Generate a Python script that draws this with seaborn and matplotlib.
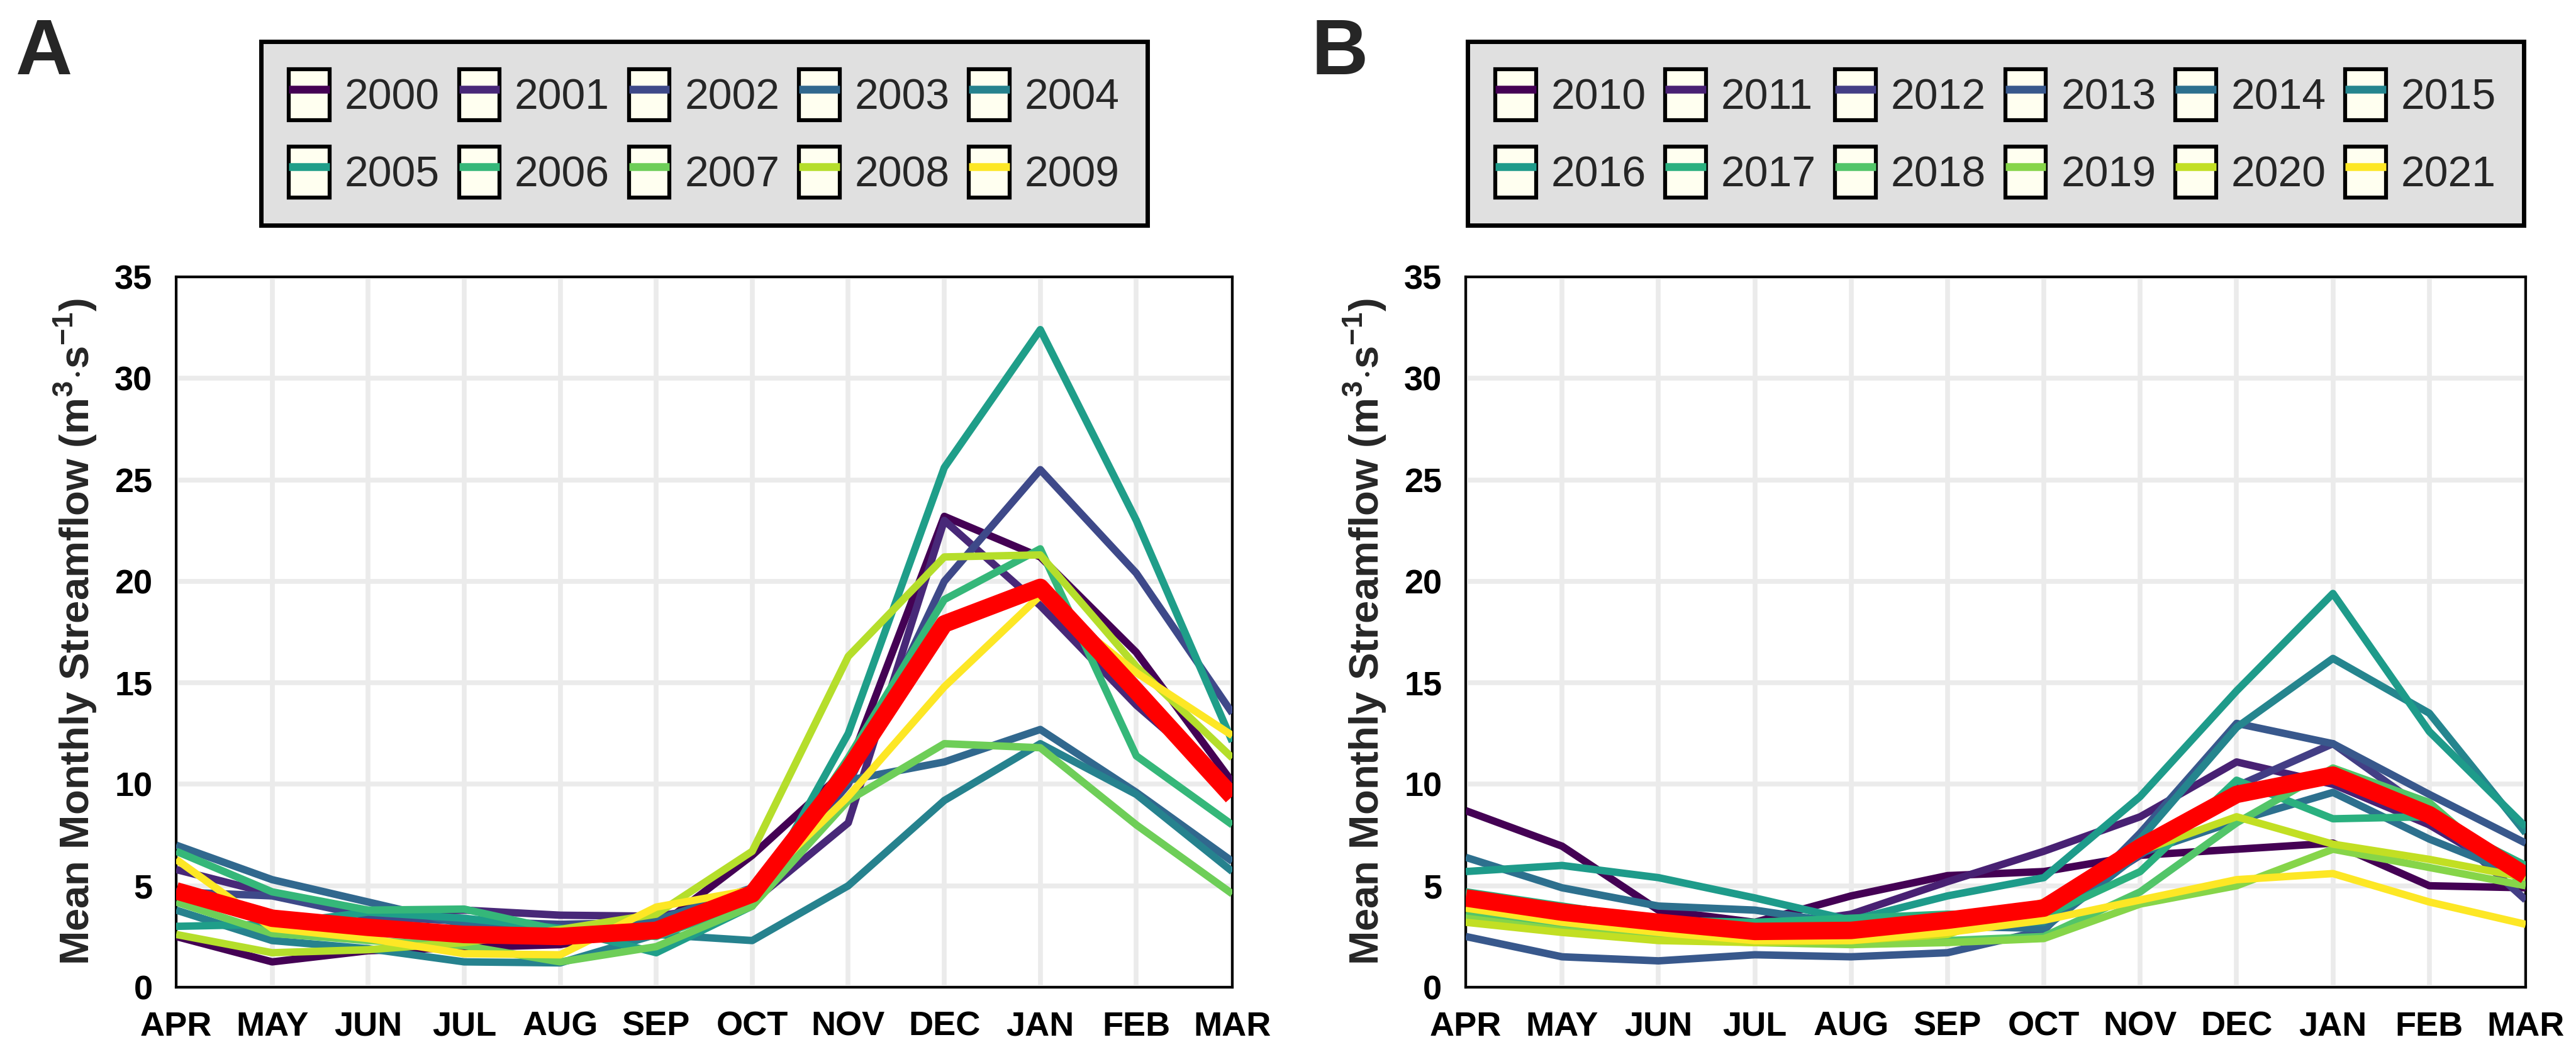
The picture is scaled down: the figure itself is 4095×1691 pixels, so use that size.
import numpy as np
import pandas as pd
import matplotlib
matplotlib.use("Agg")
import matplotlib.pyplot as plt
import matplotlib.font_manager as fm
import seaborn as sns
from matplotlib.patches import Rectangle
from matplotlib.lines import Line2D
from matplotlib.legend_handler import HandlerTuple

# ---------------- data ----------------
months = ["APR", "MAY", "JUN", "JUL", "AUG", "SEP", "OCT", "NOV", "DEC", "JAN", "FEB", "MAR"]

years_A = ["2000", "2001", "2002", "2003", "2004", "2005", "2006", "2007", "2008", "2009"]
A_2000 = [2.5, 1.25, 1.8, 1.95, 2.1, 2.9, 6.5, 10.8, 23.2, 21.2, 16.5, 10.1]
A_2001 = [5.8, 4.6, 3.6, 3.8, 3.55, 3.5, 4.2, 8.1, 23.0, 18.8, 13.9, 9.8]
A_2002 = [4.7, 4.5, 3.5, 3.25, 3.1, 3.2, 4.4, 10.0, 20.0, 25.5, 20.4, 13.5]
A_2003 = [7.0, 5.3, 4.2, 3.1, 2.9, 3.3, 4.9, 10.2, 11.1, 12.7, 9.6, 6.2]
A_2004 = [3.8, 2.3, 1.9, 1.25, 1.2, 2.6, 2.3, 5.0, 9.2, 12.0, 9.5, 5.7]
A_2005 = [3.0, 3.1, 3.7, 3.4, 2.9, 1.7, 4.0, 12.5, 25.6, 32.4, 23.0, 12.1]
A_2006 = [6.7, 4.7, 3.8, 3.85, 2.8, 2.5, 4.2, 11.3, 19.1, 21.6, 11.4, 8.0]
A_2007 = [4.2, 2.65, 2.3, 2.05, 1.25, 2.0, 4.0, 9.2, 12.0, 11.8, 8.0, 4.6]
A_2008 = [2.6, 1.7, 1.85, 2.2, 2.85, 3.6, 6.7, 16.3, 21.2, 21.3, 15.8, 11.3]
A_2009 = [6.3, 2.9, 2.4, 1.65, 1.6, 3.95, 4.8, 9.4, 14.8, 19.3, 15.5, 12.4]
A_mean = [4.75, 3.4, 2.95, 2.6, 2.5, 2.8, 4.6, 10.7, 17.9, 19.7, 14.6, 9.4]

years_B = ["2010", "2011", "2012", "2013", "2014", "2015", "2016", "2017", "2018", "2019", "2020", "2021"]
B_2010 = [8.7, 6.95, 3.8, 3.2, 4.5, 5.5, 5.7, 6.5, 6.8, 7.1, 5.0, 4.9]
B_2011 = [4.5, 3.9, 3.2, 2.9, 3.6, 5.2, 6.7, 8.4, 11.1, 10.0, 8.0, 5.2]
B_2012 = [4.3, 3.7, 3.1, 2.8, 2.8, 3.0, 3.5, 6.5, 9.9, 12.0, 8.6, 4.3]
B_2013 = [2.5, 1.5, 1.3, 1.6, 1.5, 1.7, 2.8, 7.6, 13.0, 12.0, 9.5, 7.1]
B_2014 = [6.4, 4.9, 4.0, 3.8, 3.1, 3.0, 2.9, 6.6, 8.2, 9.6, 7.3, 5.4]
B_2015 = [4.6, 3.8, 3.3, 3.0, 3.0, 3.1, 3.2, 7.3, 12.8, 16.2, 13.5, 7.6]
B_2016 = [5.7, 6.0, 5.4, 4.4, 3.3, 4.5, 5.4, 9.4, 14.6, 19.4, 12.6, 7.9]
B_2017 = [4.7, 4.0, 3.3, 3.2, 3.4, 3.6, 3.5, 5.7, 10.2, 8.3, 8.4, 6.0]
B_2018 = [3.6, 3.0, 2.6, 2.3, 2.2, 2.3, 2.5, 4.7, 8.1, 10.8, 9.1, 5.0]
B_2019 = [3.4, 2.8, 2.4, 2.2, 2.1, 2.2, 2.4, 4.1, 5.0, 6.8, 5.9, 5.0]
B_2020 = [3.2, 2.7, 2.3, 2.2, 2.3, 2.6, 4.2, 6.7, 8.4, 7.05, 6.3, 5.4]
B_2021 = [3.9, 3.2, 2.7, 2.3, 2.3, 2.7, 3.3, 4.3, 5.3, 5.6, 4.2, 3.1]
B_mean = [4.4, 3.7, 3.2, 2.75, 2.8, 3.3, 3.9, 6.9, 9.5, 10.45, 8.5, 5.5]

series_A = [A_2000, A_2001, A_2002, A_2003, A_2004, A_2005, A_2006, A_2007, A_2008, A_2009]
series_B = [B_2010, B_2011, B_2012, B_2013, B_2014, B_2015, B_2016, B_2017, B_2018,
            B_2019, B_2020, B_2021]

yticks = [0, 5, 10, 15, 20, 25, 30, 35]

# ---------------- style ----------------
sns.set_style("white")
names = {f.name for f in fm.fontManager.ttflist}
if "Liberation Sans Narrow" in names:
    tick_family = ["Liberation Sans Narrow", "Liberation Sans", "DejaVu Sans"]
    tick_size = 43
else:
    tick_family = ["Liberation Sans", "DejaVu Sans"]
    tick_size = 39
plt.rcParams["font.family"] = ["Liberation Sans", "DejaVu Sans"]
plt.rcParams["mathtext.fontset"] = "custom"
plt.rcParams["mathtext.rm"] = "Liberation Sans:bold"
plt.rcParams["mathtext.bf"] = "Liberation Sans:bold"

W, H = 4095, 1691
fig = plt.figure(figsize=(W / 100, H / 100), dpi=100)
bottom = 1 - 1569 / H
height = (1569 - 440) / H
axA = fig.add_axes([280 / W, bottom, (1959 - 280) / W, height])
axB = fig.add_axes([2330 / W, bottom, (4015 - 2330) / W, height])


def long_frame(years, series):
    rows = []
    for yr, vals in zip(years, series):
        for i, v in enumerate(vals):
            rows.append({"year": yr, "month": i, "flow": v})
    return pd.DataFrame(rows)


def draw(ax, years, series, mean, letter, letter_x):
    n = len(years)
    cols = [matplotlib.colors.to_hex(c) for c in plt.get_cmap("viridis")(np.linspace(0, 1, n))]
    df = long_frame(years, series)
    sns.lineplot(data=df, x="month", y="flow", hue="year", palette=dict(zip(years, cols)),
                 legend=False, ax=ax)
    for ln in ax.lines:
        ln.set_linewidth(8.5)
        ln.set_solid_capstyle("butt")
        ln.set_solid_joinstyle("round")
        ln.set_zorder(3)
    nlines = len(ax.lines)
    dm = pd.DataFrame({"month": range(len(mean)), "flow": mean})
    sns.lineplot(data=dm, x="month", y="flow", color="#FF0000", ax=ax)
    for ln in ax.lines[nlines:]:
        ln.set_linewidth(20)
        ln.set_solid_capstyle("butt")
        ln.set_zorder(4)
    ax.set_xlim(0, len(months) - 1)
    ax.set_ylim(0, 35)
    ax.set_xticks(range(len(months)))
    ax.set_xticklabels(months)
    ax.set_yticks(yticks)
    ax.set_yticklabels([str(t) for t in yticks])
    ax.grid(True, color="#EBEBEB", linewidth=5.5, zorder=0)
    ax.set_axisbelow(True)
    for s in ax.spines.values():
        s.set_color("black")
        s.set_linewidth(3)
        s.set_visible(True)
    ax.tick_params(axis="both", direction="out", length=17, width=4.5, color="#333333",
                   pad=10, labelsize=tick_size, labelcolor="black")
    for lab in ax.get_xticklabels() + ax.get_yticklabels():
        lab.set_family(tick_family)
        lab.set_fontweight("bold")
    ax.set_xlabel("")
    ax.set_ylabel(r"Mean Monthly Streamflow (m$^{3}$$\cdot$s$^{-1}$)", fontsize=47,
                  fontweight="bold", labelpad=18)

    # legend
    handles = []
    for c in cols:
        handles.append((Rectangle((0, 0), 1, 1, facecolor="#FFFFF0", edgecolor="black", linewidth=4.5),
                        Line2D([], [], color=c, linewidth=9, solid_capstyle="butt")))
    ncol = n // 2
    order = []
    for j in range(ncol):
        order += [j, j + ncol]
    pos = ax.get_position()
    leg = fig.legend([handles[k] for k in order], [years[k] for k in order],
                     handler_map={tuple: HandlerTuple(ndivide=1, pad=0)},
                     loc="center", bbox_to_anchor=((pos.x0 + pos.x1) / 2, 1 - 212 / H),
                     ncol=ncol, fontsize=49, frameon=True, fancybox=False, framealpha=1,
                     facecolor="#E0E0E0", edgecolor="black", handlelength=0.95, handleheight=1.45,
                     handletextpad=0.35, columnspacing=0.45, labelspacing=0.62, borderpad=0.65)
    leg.get_frame().set_linewidth(5)
    fig.text(letter_x / W, 1 - 86 / H, letter, fontsize=90, fontweight="bold",
             ha="center", va="center")


draw(axA, years_A, series_A, A_mean, "A", 70)
draw(axB, years_B, series_B, B_mean, "B", 2130)

fig.savefig("out.png", dpi=100)
